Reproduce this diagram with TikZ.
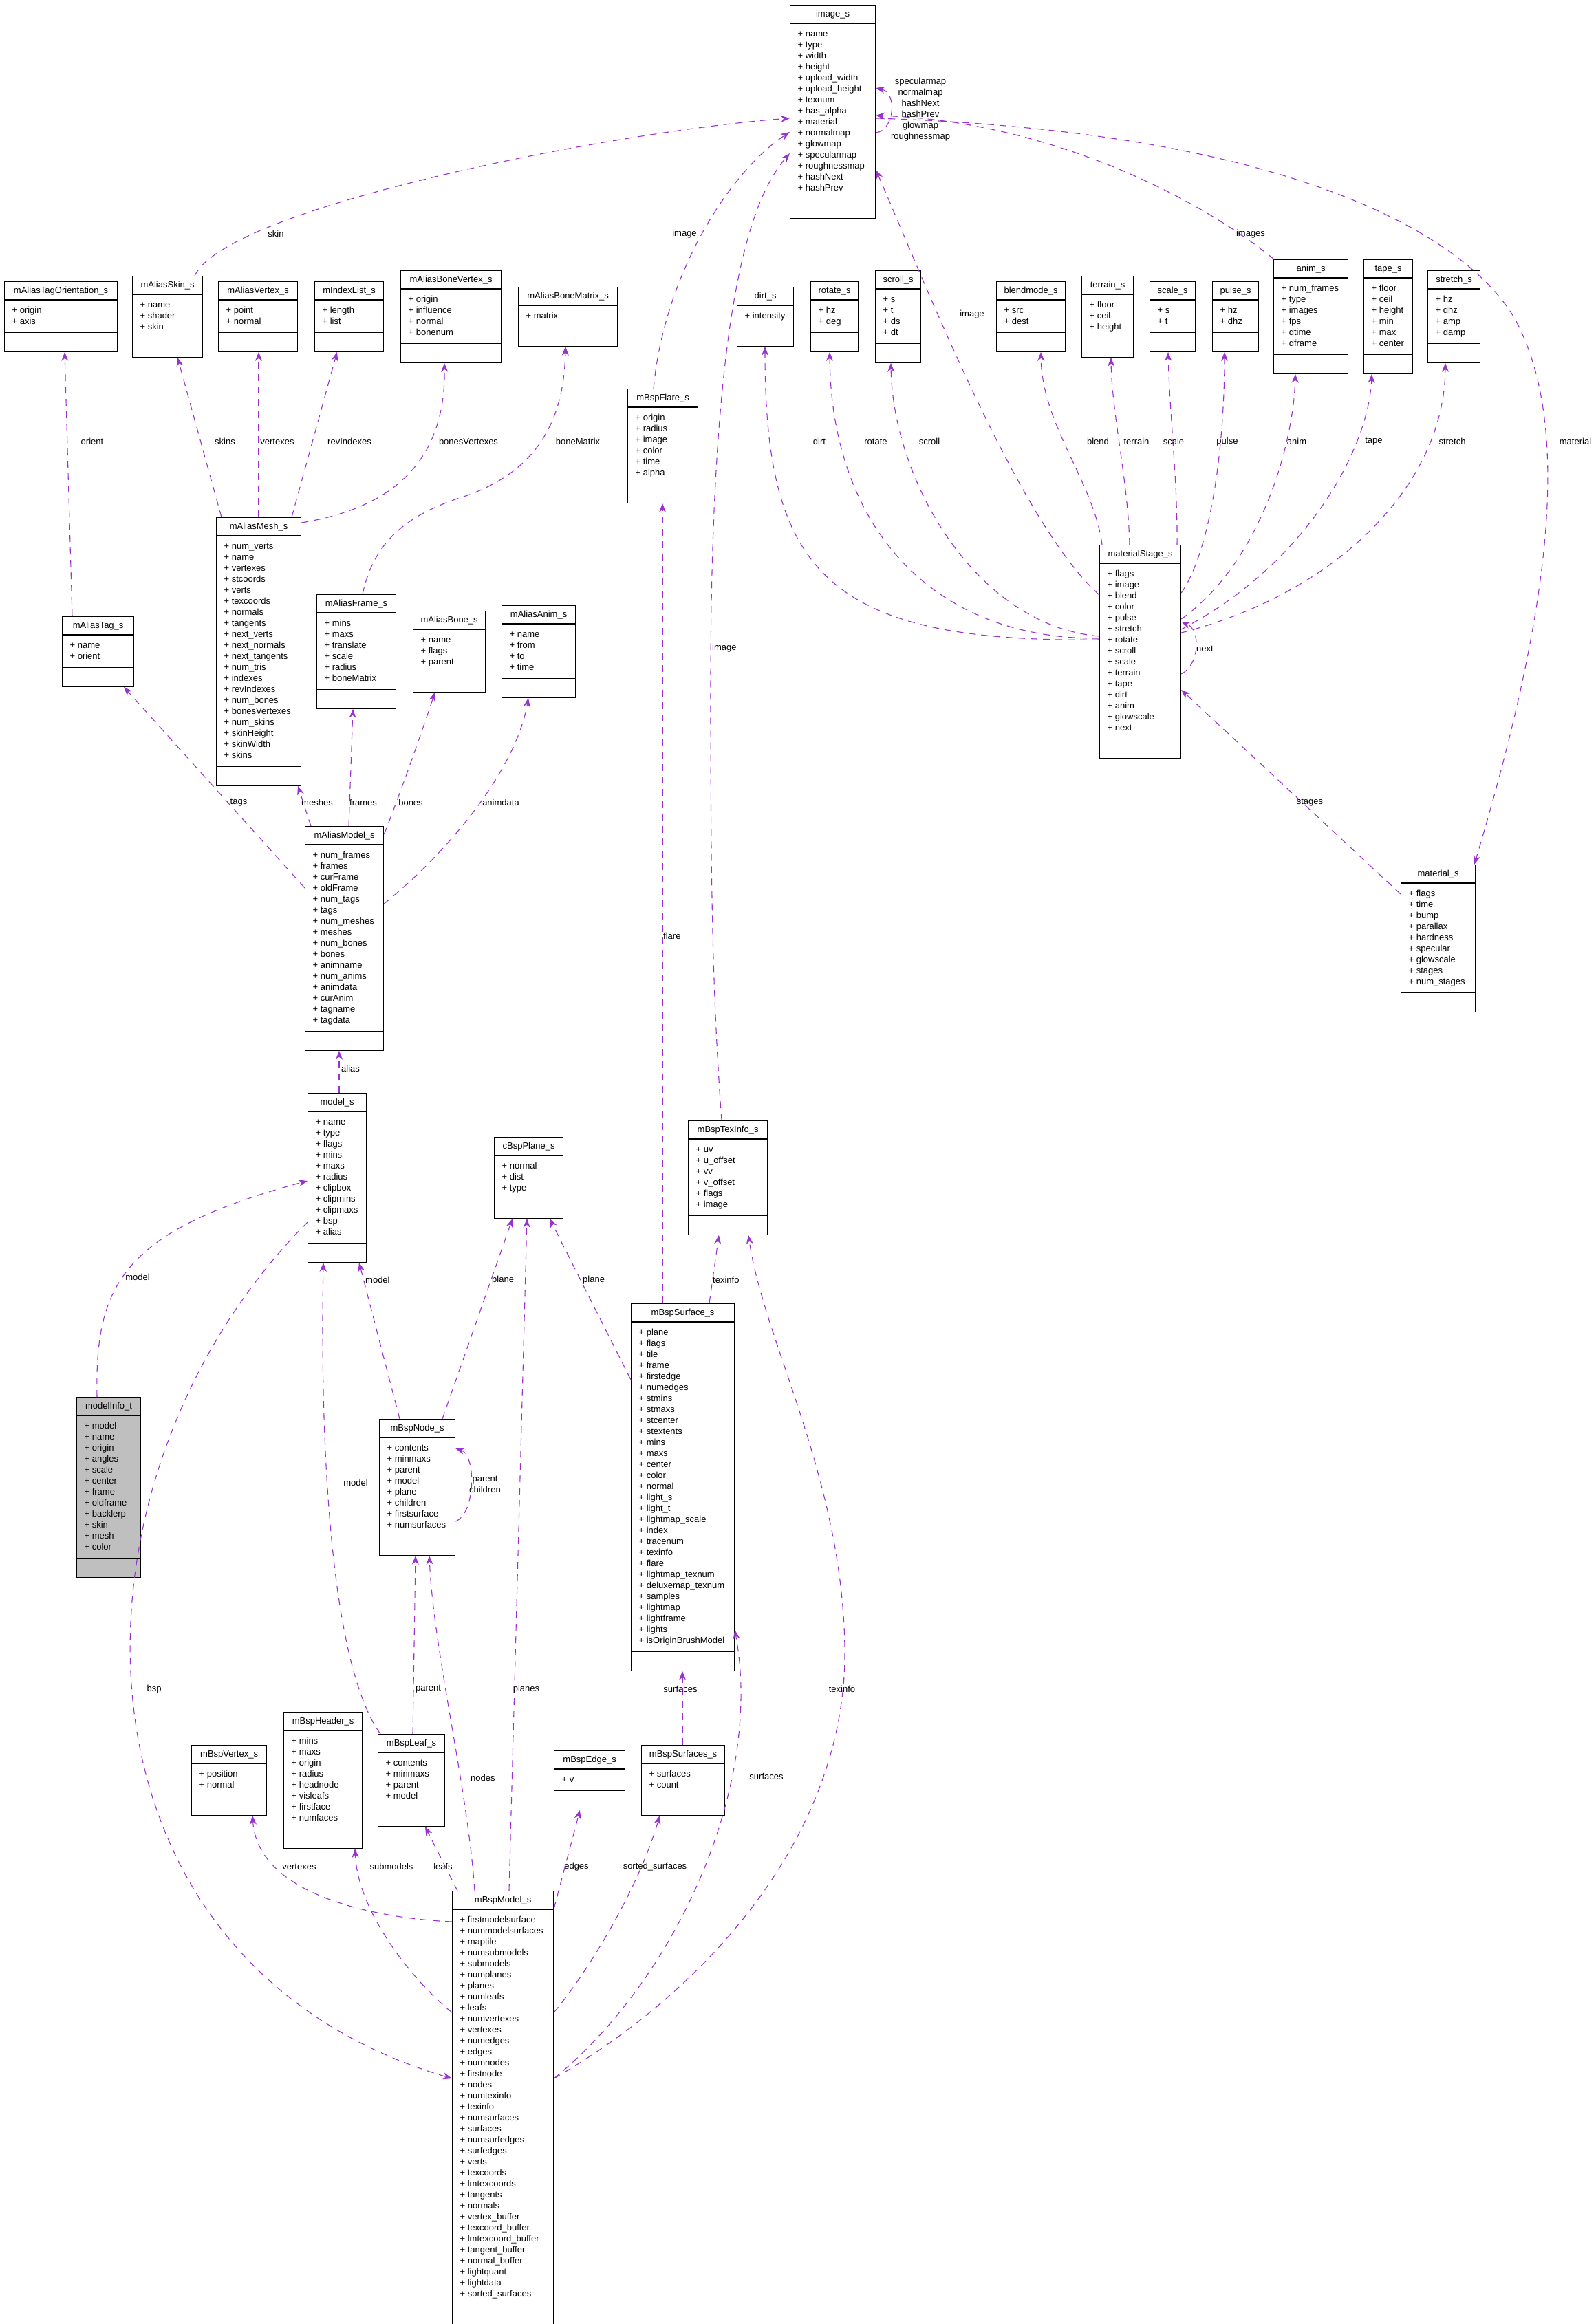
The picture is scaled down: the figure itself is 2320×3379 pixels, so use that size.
\documentclass[tikz,border=0pt]{standalone}
\usepackage{fontspec}
\setmainfont{Liberation Sans}
\usetikzlibrary{shapes.multipart,arrows.meta}

\definecolor{edgecol}{HTML}{9A32CD}
\definecolor{rootfill}{HTML}{BFBFBF}

% title, member list and empty method part of a struct box
\newcommand\mbrs[1]{\vbox{\foreach \f in {#1}{\hbox{\strut+ \f}}}}
\newcommand\sbody[2]{\strut#1\nodepart{two}\mbrs{#2}\nodepart{three}\rule{0pt}{17pt}}

\tikzset{
  cls/.style={draw, line width=1.2pt, rectangle split, rectangle split parts=3,
    rectangle split part align={center,left,left}, rectangle split draw splits=false,
    minimum width=#1, inner xsep=11pt, inner ysep=5.5pt, anchor=north west,
    font=\fontsize{13}{16}\selectfont},
  splitline/.style={line width=1.2pt},
  uses/.style={draw=edgecol, line width=1.1pt, dash pattern=on 10pt off 8pt,
    -{Stealth[length=13pt,width=10pt,inset=4pt]}},
  lbl/.style={font=\fontsize{13}{16}\selectfont, inner sep=0pt},
}

\begin{document}
\begin{tikzpicture}[x=1pt,y=-1pt]
  \fill[white] (0,0) rectangle (2320,3379);
  \useasboundingbox (0,0) rectangle (2320,3379);

  % top
  \node[cls=124] (img) at (1148,7) {\sbody{image\_s}{name,type,width,height,upload\_width,upload\_height,texnum,has\_alpha,material,normalmap,glowmap,specularmap,roughnessmap,hashNext,hashPrev}};

  % row of small structs
  \node[cls=164] (tagOrient) at (6,409) {\sbody{mAliasTagOrientation\_s}{origin,axis}};
  \node[cls=102] (aliasSkin) at (192,401) {\sbody{mAliasSkin\_s}{name,shader,skin}};
  \node[cls=115] (aliasVertex) at (317,409) {\sbody{mAliasVertex\_s}{point,normal}};
  \node[cls=100] (indexList) at (457,409) {\sbody{mIndexList\_s}{length,list}};
  \node[cls=146] (boneVertex) at (582,393) {\sbody{mAliasBoneVertex\_s}{origin,influence,normal,bonenum}};
  \node[cls=144] (boneMatrix) at (753,417) {\sbody{mAliasBoneMatrix\_s}{matrix}};
  \node[cls=102] (flare) at (912,565) {\sbody{mBspFlare\_s}{origin,radius,image,color,time,alpha}};
  \node[cls=82] (dirt) at (1071,417) {\sbody{dirt\_s}{intensity}};
  \node[cls=69] (rotate) at (1178,409) {\sbody{rotate\_s}{hz,deg}};
  \node[cls=65] (scroll) at (1272,393) {\sbody{scroll\_s}{s,t,ds,dt}};
  \node[cls=100] (blendmode) at (1448,409) {\sbody{blendmode\_s}{src,dest}};
  \node[cls=75] (terrain) at (1572,401) {\sbody{terrain\_s}{floor,ceil,height}};
  \node[cls=66] (scale) at (1671,409) {\sbody{scale\_s}{s,t}};
  \node[cls=67] (pulse) at (1762,409) {\sbody{pulse\_s}{hz,dhz}};
  \node[cls=108] (anim) at (1851,377) {\sbody{anim\_s}{num\_frames,type,images,fps,dtime,dframe}};
  \node[cls=71] (tape) at (1982,377) {\sbody{tape\_s}{floor,ceil,height,min,max,center}};
  \node[cls=76] (stretch) at (2075,393) {\sbody{stretch\_s}{hz,dhz,amp,damp}};

  % alias model parts
  \node[cls=104] (aliasTag) at (90,896) {\sbody{mAliasTag\_s}{name,orient}};
  \node[cls=123] (aliasMesh) at (314,752) {\sbody{mAliasMesh\_s}{num\_verts,name,vertexes,stcoords,verts,texcoords,normals,tangents,next\_verts,next\_normals,next\_tangents,num\_tris,indexes,revIndexes,num\_bones,bonesVertexes,num\_skins,skinHeight,skinWidth,skins}};
  \node[cls=115] (aliasFrame) at (460,864) {\sbody{mAliasFrame\_s}{mins,maxs,translate,scale,radius,boneMatrix}};
  \node[cls=105] (aliasBone) at (600,888) {\sbody{mAliasBone\_s}{name,flags,parent}};
  \node[cls=107] (aliasAnim) at (729,880) {\sbody{mAliasAnim\_s}{name,from,to,time}};
  \node[cls=118] (matStage) at (1598,792) {\sbody{materialStage\_s}{flags,image,blend,color,pulse,stretch,rotate,scroll,scale,terrain,tape,dirt,anim,glowscale,next}};

  \node[cls=114] (aliasModel) at (443,1201) {\sbody{mAliasModel\_s}{num\_frames,frames,curFrame,oldFrame,num\_tags,tags,num\_meshes,meshes,num\_bones,bones,animname,num\_anims,animdata,curAnim,tagname,tagdata}};
  \node[cls=108] (material) at (2036,1257) {\sbody{material\_s}{flags,time,bump,parallax,hardness,specular,glowscale,stages,num\_stages}};

  \node[cls=85] (model) at (447,1589) {\sbody{model\_s}{name,type,flags,mins,maxs,radius,clipbox,clipmins,clipmaxs,bsp,alias}};
  \node[cls=100] (plane) at (718,1653) {\sbody{cBspPlane\_s}{normal,dist,type}};
  \node[cls=115] (texInfo) at (1000,1629) {\sbody{mBspTexInfo\_s}{uv,u\_offset,vv,v\_offset,flags,image}};

  \node[cls=93, fill=rootfill] (modelInfo) at (111,2031) {\sbody{modelInfo\_t}{model,name,origin,angles,scale,center,frame,oldframe,backlerp,skin,mesh,color}};
  \node[cls=110] (bspNode) at (551,2063) {\sbody{mBspNode\_s}{contents,minmaxs,parent,model,plane,children,firstsurface,numsurfaces}};
  \node[cls=150] (bspSurface) at (917,1895) {\sbody{mBspSurface\_s}{plane,flags,tile,frame,firstedge,numedges,stmins,stmaxs,stcenter,stextents,mins,maxs,center,color,normal,light\_s,light\_t,lightmap\_scale,index,tracenum,texinfo,flare,lightmap\_texnum,deluxemap\_texnum,samples,lightmap,lightframe,lights,isOriginBrushModel}};

  \node[cls=109] (bspVertex) at (278,2537) {\sbody{mBspVertex\_s}{position,normal}};
  \node[cls=114] (bspHeader) at (412,2489) {\sbody{mBspHeader\_s}{mins,maxs,origin,radius,headnode,visleafs,firstface,numfaces}};
  \node[cls=97] (bspLeaf) at (549,2521) {\sbody{mBspLeaf\_s}{contents,minmaxs,parent,model}};
  \node[cls=103] (bspEdge) at (805,2545) {\sbody{mBspEdge\_s}{v}};
  \node[cls=121] (bspSurfaces) at (932,2537) {\sbody{mBspSurfaces\_s}{surfaces,count}};

  \node[cls=147] (bspModel) at (657,2749) {\sbody{mBspModel\_s}{firstmodelsurface,nummodelsurfaces,maptile,numsubmodels,submodels,numplanes,planes,numleafs,leafs,numvertexes,vertexes,numedges,edges,numnodes,firstnode,nodes,numtexinfo,texinfo,numsurfaces,surfaces,numsurfedges,surfedges,verts,texcoords,lmtexcoords,tangents,normals,vertex\_buffer,texcoord\_buffer,lmtexcoord\_buffer,tangent\_buffer,normal\_buffer,lightquant,lightdata,sorted\_surfaces}};

  % compartment lines
  \foreach \n in {img,tagOrient,aliasSkin,aliasVertex,indexList,boneVertex,boneMatrix,flare,dirt,rotate,scroll,blendmode,terrain,scale,pulse,anim,tape,stretch,aliasTag,aliasMesh,aliasFrame,aliasBone,aliasAnim,matStage,aliasModel,material,model,plane,texInfo,modelInfo,bspNode,bspSurface,bspVertex,bspHeader,bspLeaf,bspEdge,bspSurfaces,bspModel}
    \draw[splitline] ([yshift=-27pt]\n.north west) -- ([yshift=-27pt]\n.north east)
      ([yshift=28pt]\n.south west) -- ([yshift=28pt]\n.south east);

  % image_s links
  \draw[uses] ([xshift=91pt]aliasSkin.north west) .. controls (330,300) and (900,190) .. ([yshift=-165pt]img.north west);
  \node[lbl] (lSkin) at (401,340) {skin};
  \draw[uses] ([xshift=38pt]flare.north west) .. controls (965,400) and (1060,250) .. ([yshift=-185pt]img.north west);
  \node[lbl] (lFlareImg) at (995,340) {image};
  \draw[uses] ([xshift=49pt]texInfo.north west) .. controls (1036,1450) and (1033,1300) .. (1033,1000)
    .. controls (1033,450) and (1090,290) .. ([yshift=-216pt]img.north west);
  \node[lbl, anchor=west] (lTexImg) at (1035,942) {image};
  \draw[uses] ([yshift=-73pt]matStage.north west) .. controls (1480,760) and (1340,400) .. ([yshift=-240pt]img.north east);
  \node[lbl] (lStageImg) at (1413,457) {image};
  \draw[uses] ([xshift=1pt]anim.north west) .. controls (1720,270) and (1500,175) .. ([yshift=-161pt]img.north east);
  \node[lbl] (lImages) at (1818,340) {images};
  \draw[uses] ([yshift=-186pt]img.north east) .. controls (1300,190) and (1305,135) .. ([yshift=-121pt]img.north east);
  \node[lbl, align=center] (lSelf) at (1338,159) {specularmap\\normalmap\\hashNext\\hashPrev\\glowmap\\roughnessmap};
  \draw[uses] ([yshift=-165pt]img.north east) .. controls (1850,190) and (2120,330) .. (2200,460)
    .. controls (2290,620) and (2250,900) .. ([xshift=107pt]material.north west);
  \node[lbl] (lMaterial) at (2290,642) {material};

  % alias mesh
  \draw[uses] ([xshift=15pt]aliasTag.north west) -- ([xshift=88pt]tagOrient.south west);
  \node[lbl] (lOrient) at (134,642) {orient};
  \draw[uses] ([xshift=8pt]aliasMesh.north west) -- ([xshift=66pt]aliasSkin.south west);
  \node[lbl] (lSkins) at (327,642) {skins};
  \draw[uses] ([xshift=62pt]aliasMesh.north west) -- ([xshift=59pt]aliasVertex.south west);
  \node[lbl] (lVertexes) at (403,642) {vertexes};
  \draw[uses] ([xshift=110pt]aliasMesh.north west) -- ([xshift=33pt]indexList.south west);
  \node[lbl] (lRevIdx) at (508,642) {revIndexes};
  \draw[uses] ([yshift=-8pt]aliasMesh.north east) .. controls (560,740) and (648,680) .. ([xshift=64pt]boneVertex.south west);
  \node[lbl] (lBonesVert) at (681,642) {bonesVertexes};
  \draw[uses] ([xshift=67pt]aliasFrame.north west) .. controls (545,780) and (600,745) .. (680,720)
    .. controls (790,680) and (820,600) .. ([xshift=69pt]boneMatrix.south west);
  \node[lbl] (lBoneMat) at (840,642) {boneMatrix};

  % alias model
  \draw[uses] ([yshift=-90pt]aliasModel.north west) -- ([xshift=90pt]aliasTag.south west);
  \node[lbl] (lTags) at (347,1167) {tags};
  \draw[uses] ([xshift=9pt]aliasModel.north west) -- ([xshift=119pt]aliasMesh.south west);
  \node[lbl] (lMeshes) at (461,1167) {meshes};
  \draw[uses] ([xshift=64pt]aliasModel.north west) -- ([xshift=53pt]aliasFrame.south west);
  \node[lbl] (lFrames) at (528,1167) {frames};
  \draw[uses] ([yshift=-12pt]aliasModel.north east) .. controls (572,1180) and (615,1060) .. ([xshift=32pt]aliasBone.south west);
  \node[lbl] (lBones) at (597,1167) {bones};
  \draw[uses] ([yshift=-113pt]aliasModel.north east) .. controls (650,1240) and (750,1120) .. ([xshift=39pt]aliasAnim.south west);
  \node[lbl] (lAnimdata) at (728,1167) {animdata};
  \draw[uses] ([xshift=46pt]model.north west) -- ([xshift=50pt]aliasModel.south west);
  \node[lbl, anchor=west] (lAlias) at (496,1554) {alias};

  % material stages
  \draw[uses] ([yshift=-138pt]matStage.north west) .. controls (1200,935) and (1112,830) .. ([xshift=41pt]dirt.south west);
  \node[lbl] (lDirt) at (1191,642) {dirt};
  \draw[uses] ([yshift=-136pt]matStage.north west) .. controls (1350,930) and (1208,760) .. ([xshift=28pt]rotate.south west);
  \node[lbl] (lRotate) at (1273,642) {rotate};
  \draw[uses] ([yshift=-133pt]matStage.north west) .. controls (1420,910) and (1298,700) .. ([xshift=23pt]scroll.south west);
  \node[lbl] (lScroll) at (1351,642) {scroll};
  \draw[uses] ([xshift=4pt]matStage.north west) .. controls (1590,700) and (1515,620) .. ([xshift=65pt]blendmode.south west);
  \node[lbl] (lBlend) at (1596,642) {blend};
  \draw[uses] ([xshift=44pt]matStage.north west) .. controls (1640,700) and (1616,600) .. ([xshift=43pt]terrain.south west);
  \node[lbl] (lTerrain) at (1652,642) {terrain};
  \draw[uses] ([xshift=113pt]matStage.north west) .. controls (1712,700) and (1700,600) .. ([xshift=27pt]scale.south west);
  \node[lbl] (lScale) at (1706,642) {scale};
  \draw[uses] ([yshift=-70pt]matStage.north east) .. controls (1760,800) and (1780,650) .. ([xshift=18pt]pulse.south west);
  \node[lbl] (lPulse) at (1784,642) {pulse};
  \draw[uses] ([yshift=-108pt]matStage.north east) .. controls (1830,820) and (1880,650) .. ([xshift=32pt]anim.south west);
  \node[lbl] (lAnim) at (1885,642) {anim};
  \draw[uses] ([yshift=-123pt]matStage.north east) .. controls (1900,820) and (1990,650) .. ([xshift=12pt]tape.south west);
  \node[lbl] (lTape) at (1997,642) {tape};
  \draw[uses] ([yshift=-128pt]matStage.north east) .. controls (1950,860) and (2100,700) .. ([xshift=26pt]stretch.south west);
  \node[lbl] (lStretch) at (2111,642) {stretch};
  \draw[uses] ([yshift=-188pt]matStage.north east) .. controls (1745,965) and (1745,915) .. ([yshift=-112pt]matStage.north east);
  \node[lbl, anchor=west] (lNext) at (1739,943) {next};
  \draw[uses] ([yshift=-43pt]material.north west) -- ([yshift=-211pt]matStage.north east);
  \node[lbl] (lStages) at (1904,1167) {stages};

  % model and bsp
  \draw[uses] ([xshift=30pt]modelInfo.north west) .. controls (138,1870) and (175,1790) .. ([yshift=-128pt]model.north west);
  \node[lbl] (lInfoModel) at (200,1857) {model};
  \draw[uses] ([yshift=-188pt]model.north west) .. controls (75,2150) and (75,2850) .. ([yshift=-273pt]bspModel.north west);
  \node[lbl] (lBsp) at (224,2456) {bsp};
  \draw[uses] ([xshift=30pt]bspNode.north west) -- ([xshift=75pt]model.south west);
  \node[lbl, anchor=west] (lNodeModel) at (531,1861) {model};
  \draw[uses] ([xshift=4pt]bspLeaf.north west) .. controls (480,2420) and (465,2100) .. ([xshift=23pt]model.south west);
  \node[lbl] (lLeafModel) at (517,2156) {model};
  \draw[uses] ([xshift=92pt]bspNode.north west) -- ([xshift=27pt]plane.south west);
  \node[lbl, anchor=west] (lNodePlane) at (715,1861) {plane};
  \draw[uses] ([yshift=-111pt]bspSurface.north west) -- ([xshift=81pt]plane.south west);
  \node[lbl, anchor=west] (lSurfPlane) at (847,1861) {plane};
  \draw[uses] ([xshift=83pt]bspModel.north west) -- ([xshift=48pt]plane.south west);
  \node[lbl] (lPlanes) at (765,2456) {planes};
  \draw[uses] ([xshift=114pt]bspSurface.north west) -- ([xshift=45pt]texInfo.south west);
  \node[lbl, anchor=west] (lSurfTex) at (1036,1861) {texinfo};
  \draw[uses] ([xshift=46pt]bspSurface.north west) -- ([xshift=51pt]flare.south west);
  \node[lbl, anchor=west] (lFlare) at (964,1361) {flare};
  \draw[uses] ([yshift=-149pt]bspNode.north east) .. controls (692,2200) and (692,2115) .. ([yshift=-43pt]bspNode.north east);
  \node[lbl, align=center] (lNodeSelf) at (705,2158) {parent\\children};
  \draw[uses] ([xshift=51pt]bspLeaf.north west) -- ([xshift=53pt]bspNode.south west);
  \node[lbl, anchor=west] (lParent) at (604,2456) {parent};
  \draw[uses] ([xshift=33pt]bspModel.north west) .. controls (680,2600) and (630,2400) .. ([xshift=73pt]bspNode.south west);
  \node[lbl, anchor=west] (lNodes) at (684,2585) {nodes};

  % bsp model members
  \draw[uses] ([yshift=-45pt]bspModel.north west) .. controls (560,2790) and (375,2760) .. ([xshift=89pt]bspVertex.south west);
  \node[lbl] (lBspVert) at (435,2714) {vertexes};
  \draw[uses] ([yshift=-177pt]bspModel.north west) .. controls (600,2880) and (520,2780) .. ([xshift=104pt]bspHeader.south west);
  \node[lbl] (lSubmodels) at (569,2714) {submodels};
  \draw[uses] ([xshift=8pt]bspModel.north west) -- ([xshift=69pt]bspLeaf.south west);
  \node[lbl] (lLeafs) at (644,2714) {leafs};
  \draw[uses] ([yshift=-26pt]bspModel.north east) -- ([xshift=38pt]bspEdge.south west);
  \node[lbl] (lEdges) at (838,2714) {edges};
  \draw[uses] ([yshift=-177pt]bspModel.north east) .. controls (860,2860) and (930,2740) .. ([xshift=27pt]bspSurfaces.south west);
  \node[lbl] (lSorted) at (952,2714) {sorted\_surfaces};
  \draw[uses] ([xshift=60pt]bspSurfaces.north west) -- ([xshift=75pt]bspSurface.south west);
  \node[lbl] (lSurfs) at (989,2456) {surfaces};
  \draw[uses] ([yshift=-273pt]bspModel.north east) .. controls (980,2880) and (1110,2600) .. ([yshift=-475pt]bspSurface.north east);
  \node[lbl] (lModelSurf) at (1114,2583) {surfaces};
  \draw[uses] ([yshift=-273pt]bspModel.north east) .. controls (1050,2880) and (1230,2650) .. (1228,2400)
    .. controls (1226,2150) and (1110,1950) .. ([xshift=88pt]texInfo.south west);
  \node[lbl] (lModelTex) at (1224,2456) {texinfo};
\end{tikzpicture}
\end{document}
